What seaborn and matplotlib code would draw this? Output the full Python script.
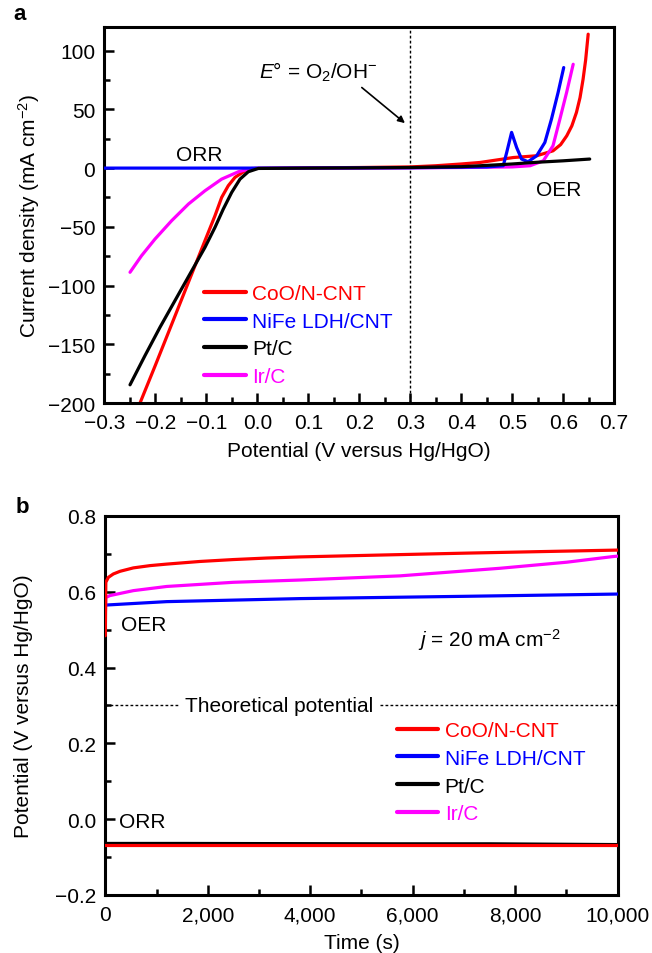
import matplotlib
matplotlib.use("Agg")
import matplotlib.pyplot as plt
import seaborn as sns
from matplotlib.ticker import MultipleLocator, FuncFormatter

# ---------------- panel a: polarization curves ----------------
catalysts = ["CoO/N-CNT", "NiFe LDH/CNT", "Pt/C", "Ir/C"]
colors = ["#ff0000", "#0000ff", "#000000", "#ff00ff"]

coo_potential = [-0.23, -0.2006, -0.1678, -0.1353, -0.1026, -0.083, -0.0698, -0.0569,
                 -0.0437, -0.0241, -0.0045, 0.1, 0.2, 0.3, 0.35, 0.4, 0.437, 0.502,
                 0.548, 0.58, 0.595, 0.607, 0.617, 0.626, 0.633, 0.639, 0.644, 0.649]
coo_current = [-200, -168.6, -132.9, -97.5, -61.8, -40.6, -24.9, -15.0,
               -7.9, -2.3, -0.3, 0.2, 0.5, 1.0, 2.0, 3.5, 4.8, 9.0,
               10.5, 14.7, 20.0, 27.5, 36, 47.4, 60, 75.7, 92, 114]

nife_potential = [-0.3, 0.0, 0.3, 0.45, 0.4824, 0.489, 0.4988, 0.5086, 0.5184,
                  0.531, 0.548, 0.564, 0.577, 0.590, 0.601]
nife_current = [0, 0, 0.3, 1.0, 2.0, 13, 30.4, 17.6, 7.7,
                5.4, 10.5, 21.8, 41.7, 64.4, 85.6]

ptc_potential = [-0.2496, -0.2202, -0.1908, -0.1614, -0.132, -0.1026, -0.083, -0.0667,
                 -0.0502, -0.0339, -0.0176, 0.002, 0.1, 0.2, 0.3, 0.4, 0.437, 0.5,
                 0.55, 0.6, 0.652]
ptc_current = [-184.5, -159.6, -135.5, -112.8, -90.1, -67.5, -50.5, -34.9,
               -20.7, -9.4, -3.1, -0.3, 0, 0.2, 0.5, 1.2, 2.0, 3.5,
               5.0, 6.2, 7.7]

irc_potential = [-0.2496, -0.227, -0.2006, -0.168, -0.135, -0.1026, -0.07, -0.037,
                 -0.011, 0.1, 0.2, 0.3, 0.4, 0.5, 0.535, 0.561, 0.58, 0.5935,
                 0.6067, 0.6196]
irc_current = [-88.7, -74.6, -60.4, -44.8, -30.6, -19.3, -9.4, -3.1,
               -0.3, 0, 0, 0.2, 0.5, 1.0, 2.0, 6.2, 19, 41.7,
               64.4, 88.4]

# ---------------- panel b: chronopotentiometry ----------------
coo_oer_time = [0, 10, 59, 157, 287, 547, 872, 1198, 1849, 2499, 3150, 3800,
                5400, 7054, 8500, 10000]
coo_oer_v = [0.484, 0.625, 0.638, 0.647, 0.654, 0.663, 0.669, 0.673, 0.680, 0.685,
             0.689, 0.692, 0.697, 0.702, 0.706, 0.710]
coo_orr_time = [0, 2500, 5000, 7500, 10000]
coo_orr_v = [-0.069, -0.069, -0.069, -0.069, -0.069]

nife_time = [0, 14, 1198, 3800, 7000, 10000]
nife_v = [0.560, 0.565, 0.574, 0.582, 0.588, 0.594]

ptc_time = [0, 1500, 5600, 7500, 10000]
ptc_v = [-0.064, -0.064, -0.065, -0.065, -0.067]

irc_time = [0, 10, 92, 547, 1198, 2499, 3800, 5752, 7704, 9006, 9916, 10000]
irc_v = [0.537, 0.585, 0.590, 0.603, 0.614, 0.625, 0.631, 0.642, 0.662, 0.678, 0.693, 0.694]

theoretical_v = 0.3

# ---------------- style ----------------
sns.set_theme(style="ticks")
plt.rcParams["font.family"] = ["Liberation Sans", "DejaVu Sans"]
plt.rcParams["mathtext.fontset"] = "custom"
plt.rcParams["mathtext.rm"] = "Liberation Sans"
plt.rcParams["mathtext.it"] = "Liberation Sans:italic"
plt.rcParams["axes.unicode_minus"] = True
plt.rcParams["text.color"] = "black"
plt.rcParams["axes.labelcolor"] = "black"

FS = 15
LW = 2.3

fig = plt.figure(figsize=(6.52, 9.54), dpi=100)
ax_a = fig.add_axes([0.160, 0.5765, 0.782, 0.394])
ax_b = fig.add_axes([0.1615, 0.0608, 0.7857, 0.3973])


def style_axes(ax):
    for s in ax.spines.values():
        s.set_visible(True)
        s.set_linewidth(2.2)
        s.set_color("black")
    ax.tick_params(which="both", direction="in", top=False, right=False,
                   width=1.8, colors="black", labelsize=FS)
    ax.tick_params(which="major", length=7)
    ax.tick_params(axis="x", which="major", pad=7.5)
    ax.tick_params(axis="y", which="major", pad=6.5)
    ax.tick_params(which="minor", length=4)
    ax.grid(False)


def fmt(decimals):
    def f(v, _):
        v = round(v, decimals) + 0.0
        return f"{v:.{decimals}f}".replace("-", "\u2212")
    return FuncFormatter(f)


def draw(ax, x, y, color, z):
    sns.lineplot(x=x, y=y, ax=ax, color=color, lw=LW, sort=False,
                 estimator=None, zorder=z, legend=False)
    return ax.lines[-1]


def add_legend(ax, handles, anchor):
    leg = ax.legend(handles, catalysts, loc="upper left", bbox_to_anchor=anchor,
                    frameon=False, fontsize=FS, handlelength=2.0,
                    handletextpad=0.3, labelspacing=0.42, borderaxespad=0,
                    borderpad=0, labelcolor="linecolor")
    for ln in leg.get_lines():
        ln.set_linewidth(3)
    return leg


# ---- panel a ----
ha = {}
ha["CoO/N-CNT"] = draw(ax_a, coo_potential, coo_current, colors[0], 2)
ha["Ir/C"] = draw(ax_a, irc_potential, irc_current, colors[3], 3)
ha["NiFe LDH/CNT"] = draw(ax_a, nife_potential, nife_current, colors[1], 4)
ha["Pt/C"] = draw(ax_a, ptc_potential, ptc_current, colors[2], 5)

ax_a.axvline(0.3, color="black", lw=1.0, ls=(0, (2, 1.6)), zorder=1)
ax_a.set_xlim(-0.3, 0.7)
ax_a.set_ylim(-200, 120)
ax_a.xaxis.set_major_locator(MultipleLocator(0.1))
ax_a.xaxis.set_minor_locator(MultipleLocator(0.05))
ax_a.yaxis.set_major_locator(MultipleLocator(50))
ax_a.yaxis.set_minor_locator(MultipleLocator(25))
ax_a.xaxis.set_major_formatter(fmt(1))
ax_a.yaxis.set_major_formatter(fmt(0))
style_axes(ax_a)
ax_a.set_xlabel("Potential (V versus Hg/HgO)", fontsize=FS)
ax_a.set_ylabel("Current density (mA cm$^{-2}$)", fontsize=FS)
ax_a.xaxis.set_label_coords(0.5, -0.100)
ax_a.yaxis.set_label_coords(-0.122, 0.5)

ax_a.text(0.120, 82.5, r"$\mathit{E}$° = O$_2$/OH$^{-}$", fontsize=FS,
          ha="center", va="center")
ax_a.annotate("", xy=(0.2896, 38.3), xytext=(0.205, 68.6),
              arrowprops=dict(arrowstyle="-|>", color="black", lw=1.2,
                              mutation_scale=10, shrinkA=0, shrinkB=0))
ax_a.text(-0.114, 11.9, "ORR", fontsize=FS, ha="center", va="center")
ax_a.text(0.592, -18.5, "OER", fontsize=FS, ha="center", va="center")

add_legend(ax_a, [ha[c] for c in catalysts], (0.196, 0.317))

# ---- panel b ----
hb = {}
hb["Pt/C"] = draw(ax_b, ptc_time, ptc_v, colors[2], 2)
draw(ax_b, coo_orr_time, coo_orr_v, colors[0], 3)
hb["NiFe LDH/CNT"] = draw(ax_b, nife_time, nife_v, colors[1], 3)
hb["Ir/C"] = draw(ax_b, irc_time, irc_v, colors[3], 4)
hb["CoO/N-CNT"] = draw(ax_b, coo_oer_time, coo_oer_v, colors[0], 5)

ax_b.axhline(theoretical_v, color="black", lw=1.0, ls=(0, (2, 1.6)), zorder=1)
ax_b.text(3390, theoretical_v, "Theoretical potential", fontsize=FS,
          ha="center", va="center", zorder=2,
          bbox=dict(facecolor="white", edgecolor="none", pad=4))
ax_b.set_xlim(0, 10000)
ax_b.set_ylim(-0.2, 0.8)
ax_b.xaxis.set_major_locator(MultipleLocator(2000))
ax_b.xaxis.set_minor_locator(MultipleLocator(1000))
ax_b.yaxis.set_major_locator(MultipleLocator(0.2))
ax_b.yaxis.set_minor_locator(MultipleLocator(0.1))
ax_b.xaxis.set_major_formatter(FuncFormatter(lambda v, _: f"{v:,.0f}"))
ax_b.yaxis.set_major_formatter(fmt(1))
style_axes(ax_b)
ax_b.set_xlabel("Time (s)", fontsize=FS)
ax_b.set_ylabel("Potential (V versus Hg/HgO)", fontsize=FS)
ax_b.xaxis.set_label_coords(0.5, -0.100)
ax_b.yaxis.set_label_coords(-0.141, 0.5)

ax_b.text(300, 0.514, "OER", fontsize=FS, ha="left", va="center")
ax_b.text(270, -0.005, "ORR", fontsize=FS, ha="left", va="center")
ax_b.text(6100, 0.475, r"$\mathit{j}$ = 20 mA cm$^{-2}$", fontsize=FS,
          ha="left", va="center")

add_legend(ax_b, [hb[c] for c in catalysts], (0.569, 0.459))

fig.text(20 / 652, 1 - 15 / 954, "a", fontsize=16, fontweight="bold",
         ha="center", va="center")
fig.text(22 / 652, 1 - 508 / 954, "b", fontsize=16, fontweight="bold",
         ha="center", va="center")

fig.savefig("out.png", dpi=100)
